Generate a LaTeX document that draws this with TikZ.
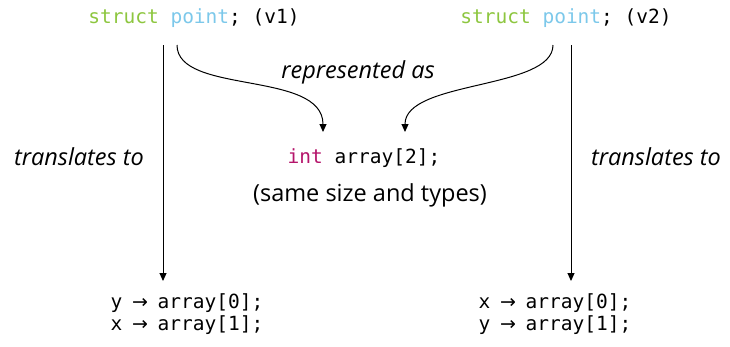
\documentclass[tikz,border=0pt]{standalone}
\usepackage{fontspec}
\setmainfont{Open Sans}
\setmonofont{DejaVu Sans Mono}
\newfontfamily\arrfont{DejaVu Sans}
\usetikzlibrary{arrows.meta}
\definecolor{kwgreen}{HTML}{8DC63F}
\definecolor{kwblue}{HTML}{7CC8EA}
\definecolor{kwmag}{HTML}{B5156B}
\newcommand{\myarr}{\makebox[0.6em]{\arrfont\fontsize{19}{22}\selectfont →}}
\begin{document}
\begin{tikzpicture}[x=1pt,y=-1pt,
  code/.style={font=\fontsize{19.5}{22}\selectfont\ttfamily, inner sep=0pt},
  lbl/.style={font=\fontsize{23.5}{26}\selectfont\itshape, inner sep=0pt},
  plain/.style={font=\fontsize{23.5}{26}\selectfont, inner sep=0pt},
  arr/.style={-{Triangle[length=8pt,width=7pt]}, line width=1pt, black}]
\useasboundingbox (0,0) rectangle (730,346);
\node[code] (v1) at (194,18) {\textcolor{kwgreen}{struct} \textcolor{kwblue}{point}; (v1)};
\node[code] (v2) at (566,18) {\textcolor{kwgreen}{struct} \textcolor{kwblue}{point}; (v2)};
\node[code] (arr) at (364,158) {\textcolor{kwmag}{int} array[2];};
\node[plain] (same) at (370,195) {(same size and types)};
\node[lbl] (rep) at (358,72) {represented as};
\node[lbl] (tl) at (79,157) {translates to};
\node[lbl] (tr) at (656,157) {translates to};
\node[code, align=left] (b1) at (187,314) {y \myarr{} array[0];\\x \myarr{} array[1];};
\node[code, align=left] (b2) at (555,314) {x \myarr{} array[0];\\y \myarr{} array[1];};
\coordinate (l1) at (163,45);
\coordinate (l2) at (163,281);
\coordinate (r1) at (571,45);
\coordinate (r2) at (571,281);
\draw[arr] (l1) -- (l2);
\draw[arr] (r1) -- (r2);
\coordinate (c1) at (177,45);
\coordinate (c1e) at (323,132);
\coordinate (c2) at (553,45);
\coordinate (c2e) at (405,132);
\draw[arr] (c1) .. controls (177,95) and (323,70) .. (c1e);
\draw[arr] (c2) .. controls (553,90) and (405,80) .. (c2e);
\end{tikzpicture}
\end{document}
